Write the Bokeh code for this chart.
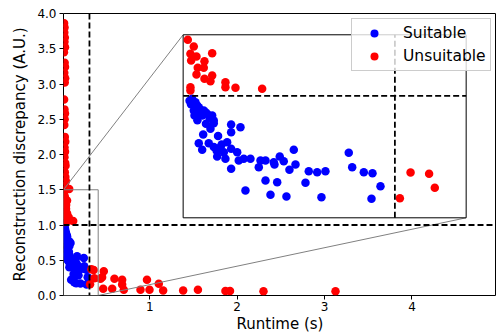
from bokeh.plotting import figure
from bokeh.models import Range1d, FixedTicker, PrintfTickFormatter, Span, Legend, LegendItem
from bokeh.embed import file_html
from bokeh.resources import INLINE

# ---------------- data ----------------
suitable_runtime = [0.0256, 0.0303, 0.0326, 0.0349, 0.0279, 0.0419, 0.0397, 0.0443, 0.0289, 0.0397,
                    0.0537, 0.0559, 0.0559, 0.0513, 0.0803, 0.0934, 0.0803, 0.0411, 0.0349, 0.0489,
                    0.0397, 0.0653, 0.0747, 0.0700, 0.0607, 0.0723, 0.0803, 0.0888, 0.0910, 0.0803,
                    0.0980, 0.1074, 0.1215, 0.1191, 0.1285, 0.1401, 0.1411, 0.1485, 0.1541, 0.1682,
                    0.1706, 0.1621, 0.1285, 0.1449, 0.1004, 0.1355, 0.1579, 0.1892, 0.2010, 0.2126,
                    0.1846, 0.2070, 0.2453, 0.2501, 0.2664, 0.2786, 0.2898, 0.2772,
                    0.022, 0.024, 0.036, 0.038, 0.047, 0.050, 0.033, 0.045, 0.062, 0.056, 0.060, 0.067]
suitable_discrepancy = [0.975, 0.948, 0.920, 0.907, 0.880, 0.880, 0.866, 0.866, 0.839, 0.839,
                        0.839, 0.798, 0.775, 0.730, 0.765, 0.743, 0.702, 0.683, 0.611, 0.611,
                        0.557, 0.579, 0.620, 0.538, 0.502, 0.484, 0.566, 0.538, 0.470, 0.402,
                        0.484, 0.484, 0.470, 0.415, 0.470, 0.456, 0.437, 0.502, 0.464, 0.557,
                        0.437, 0.393, 0.306, 0.292, 0.224, 0.189, 0.175, 0.382, 0.374, 0.382,
                        0.287, 0.169, 0.533, 0.415, 0.374, 0.366, 0.259, 0.156,
                        0.960, 0.930, 0.890, 0.850, 0.850, 0.820, 0.800, 0.770, 0.670, 0.580, 0.550, 0.600]

unsuitable_runtime = [0.020, 0.025, 0.022, 0.028, 0.024, 0.030, 0.018, 0.026, 0.030, 0.022,
                      0.032, 0.027, 0.020, 0.024, 0.030, 0.026, 0.022, 0.028, 0.033, 0.025,
                      0.030, 0.024, 0.032, 0.036, 0.028, 0.034, 0.040, 0.030, 0.050, 0.078,
                      0.0195, 0.0279, 0.0232, 0.0317, 0.0242, 0.0429, 0.0537, 0.0335, 0.0419, 0.0317,
                      0.0537, 0.0429, 0.0513, 0.0723, 0.0723, 0.0864, 0.1238, 0.0232, 0.0232,
                      0.332, 0.358, 0.366, 0.317,
                      0.455, 0.474, 0.436, 0.467, 0.570, 0.596, 0.684, 0.684, 0.703, 0.894,
                      0.968, 0.997, 1.103, 1.153, 1.382, 1.551, 1.866, 1.918, 2.301, 3.125]
unsuitable_discrepancy = [3.86, 3.80, 3.73, 3.66, 3.60, 3.52, 3.45, 3.30, 3.24, 3.16,
                          3.08, 3.02, 2.78, 2.64, 2.58, 2.50, 2.42, 2.25, 2.18, 2.10,
                          2.04, 1.96, 1.88, 1.84, 1.75, 1.68, 1.62, 1.56, 1.51, 1.51,
                          1.459, 1.404, 1.344, 1.322, 1.289, 1.284, 1.349, 1.230, 1.230, 1.175,
                          1.166, 1.139, 1.120, 1.111, 1.070, 1.066, 1.057, 1.070, 1.043,
                          0.371, 0.361, 0.246, 0.161,
                          0.26, 0.345, 0.237, 0.095, 0.095, 0.237, 0.223, 0.156, 0.081, 0.081,
                          0.224, 0.081, 0.166, 0.071, 0.071, 0.081, 0.064, 0.064, 0.061, 0.061]

runtime_threshold = 0.31
discrepancy_threshold = 1.0
x_ticks = [1, 2, 3, 4, 5]
y_ticks = [0.0, 0.5, 1.0, 1.5, 2.0, 2.5, 3.0, 3.5, 4.0]

# zoomed window and where the inset sits (main data units)
zoom_x = (0.013, 0.41)
zoom_y = (0.0, 1.5)
inset_x = (1.382, 4.620)
inset_y = (1.102, 3.698)

FONT = "DejaVu Sans"
BLUE = "#0000ff"
RED = "#ff0000"
DOT = 8.5

p = figure(width=496, height=336, output_backend="svg", toolbar_location=None,
           x_range=Range1d(0.013, 4.967), y_range=Range1d(0, 4),
           min_border_left=63, min_border_right=0, min_border_top=13, min_border_bottom=41)
p.xgrid.visible = False
p.ygrid.visible = False
p.outline_line_color = "black"
p.outline_line_width = 1
p.outline_line_alpha = 1
p.background_fill_color = "white"

for ax in (p.xaxis[0], p.yaxis[0]):
    ax.axis_line_color = None
    ax.major_tick_in = 0
    ax.major_tick_out = 4
    ax.major_tick_line_color = "black"
    ax.minor_tick_line_color = None
    ax.major_label_text_font = FONT
    ax.major_label_text_font_size = "12px"
    ax.major_label_text_color = "black"
    ax.axis_label_text_font = FONT
    ax.axis_label_text_font_size = "15px"
    ax.axis_label_text_font_style = "normal"
    ax.axis_label_text_color = "black"
p.yaxis.major_label_standoff = 3
p.yaxis.axis_label_standoff = 5
p.xaxis.major_label_standoff = 2
p.xaxis.axis_label_standoff = 1

p.xaxis.ticker = FixedTicker(ticks=x_ticks)
p.xaxis.formatter = PrintfTickFormatter(format="%d")
p.yaxis.ticker = FixedTicker(ticks=y_ticks)
p.yaxis.formatter = PrintfTickFormatter(format="%.1f")
p.xaxis.axis_label = "Runtime (s)"
p.yaxis.axis_label = "Reconstruction discrepancy (A.U.)"

# main scatter
r_suit = p.scatter(suitable_runtime, suitable_discrepancy, size=DOT, color=BLUE, line_color=None)
r_uns = p.scatter(unsuitable_runtime, unsuitable_discrepancy, size=DOT, color=RED, line_color=None)

# threshold lines
p.add_layout(Span(location=discrepancy_threshold, dimension="width", line_color="black",
                  line_width=1.8, line_dash="6 3"))
p.add_layout(Span(location=runtime_threshold, dimension="height", line_color="black",
                  line_width=1.8, line_dash="6 3"))

# zoom marker rectangle and connectors
GRAY = "#808080"
p.quad(left=[zoom_x[0]], right=[zoom_x[1]], bottom=[zoom_y[0]], top=[zoom_y[1]],
       fill_color=None, line_color=GRAY, line_width=1)
p.segment(x0=[zoom_x[0], zoom_x[1]], y0=[zoom_y[1], zoom_y[0]],
          x1=[inset_x[0], inset_x[1]], y1=[inset_y[1], inset_y[0]],
          line_color=GRAY, line_width=1)

# inset frame
p.quad(left=[inset_x[0]], right=[inset_x[1]], bottom=[inset_y[0]], top=[inset_y[1]],
       fill_color="white", line_color="black", line_width=1)

sub = p.subplot(x_source=Range1d(*zoom_x), y_source=Range1d(*zoom_y),
                x_target=Range1d(*inset_x), y_target=Range1d(*inset_y))

def in_zoom(xs, ys):
    keep = [(x, y) for x, y in zip(xs, ys) if zoom_x[0] <= x <= zoom_x[1] and zoom_y[0] <= y < zoom_y[1]]
    return [k[0] for k in keep], [k[1] for k in keep]

sx, sy = in_zoom(suitable_runtime, suitable_discrepancy)
ux, uy = in_zoom(unsuitable_runtime, unsuitable_discrepancy)
sub.scatter(sx, sy, size=DOT, color=BLUE, line_color=None)
sub.scatter(ux, uy, size=DOT, color=RED, line_color=None)
sub.segment(x0=[zoom_x[0], runtime_threshold], y0=[discrepancy_threshold, zoom_y[0]],
            x1=[zoom_x[1], runtime_threshold], y1=[discrepancy_threshold, zoom_y[1]],
            line_color="black", line_width=1.8, line_dash="6 3")

legend = Legend(items=[LegendItem(label="Suitable", renderers=[r_suit]),
                       LegendItem(label="Unsuitable", renderers=[r_uns])],
                location=(288, 224))
legend.label_text_font = FONT
legend.label_text_font_size = "15.5px"
legend.label_text_color = "black"
legend.padding = 4
legend.spacing = 3
legend.glyph_width = 36
legend.glyph_height = 20
legend.label_height = 20
legend.label_standoff = 11
legend.border_line_color = "#cccccc"
legend.border_line_alpha = 1
legend.background_fill_alpha = 0.8
legend.margin = 0
p.add_layout(legend)

open("out.html", "w").write(file_html(p, INLINE))
